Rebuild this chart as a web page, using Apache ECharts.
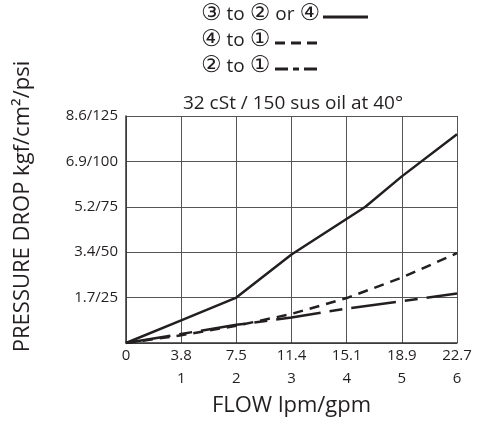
<!DOCTYPE html>
<html><head><meta charset="utf-8">
<script src="https://cdn.jsdelivr.net/npm/echarts@6/dist/echarts.min.js"></script>
<style>html,body{margin:0;padding:0;background:#fff}#c{width:477px;height:423px}</style>
</head><body><div id="c"></div>
<script>
const seriesNames = ['③ to ② or ④', '④ to ①', '② to ①'];
const xTickLabels = ['0', '3.8\n1', '7.5\n2', '11.4\n3', '15.1\n4', '18.9\n5', '22.7\n6'];
const yTickLabels = ['', '1.7/25', '3.4/50', '5.2/75', '6.9/100', '8.6/125'];
// x in gpm, y in units of 25 psi
const s1 = [[0,0],[1,0.5],[2,1],[3,1.95],[4.34,3],[5,3.67],[6,4.6]];
const s2 = [[0,0],[1,0.17],[2,0.38],[3,0.64],[4,0.99],[5,1.44],[6,1.98]];
const s3 = [[0,0],[1,0.2],[2,0.4],[3,0.56],[4,0.76],[5,0.92],[6,1.09]];

const font = '"Open Sans", "Noto Sans CJK JP", sans-serif';
const col = '#231f20';
const legendDash = ['solid', [10, 6], [13, 5, 6, 5]];
const legendRows = [
  {y: 17, x1: 323, x2: 368},
  {y: 43, x1: 275, x2: 320},
  {y: 69, x1: 275, x2: 320}
];
function richify(s) {
  return s.replace(/([①-⑳])/g, '{c|$1}').replace(/ ([a-z]+) /g, '{t| $1 }').replace(/^([a-z]+)/, '{t|$1}');
}
const legendGraphics = [];
seriesNames.forEach((n, i) => {
  const r = legendRows[i];
  legendGraphics.push({type: 'text', left: 201, top: r.y - 14,
    style: {text: richify(n), font: '19px ' + font, fill: col,
      rich: {
        c: {font: '23px "DejaVu Sans"', fill: col, verticalAlign: 'middle'},
        t: {font: '19px ' + font, fill: col, verticalAlign: 'middle'}
      }}});
  legendGraphics.push({type: 'line', shape: {x1: r.x1, y1: r.y, x2: r.x2, y2: r.y},
    style: {stroke: col, lineWidth: 3, lineDash: legendDash[i] === 'solid' ? null : legendDash[i]}});
});

const chart = echarts.init(document.getElementById('c'));
chart.setOption({
  animation: false,
  textStyle: {fontFamily: font},
  title: {
    text: '32 cSt / 150 sus oil at 40°',
    left: 288, top: 89, textAlign: 'center',
    textStyle: {fontSize: 19, fontWeight: 'normal', color: col, fontFamily: font}
  },
  graphic: legendGraphics,
  grid: {left: 126, right: 20, top: 116, bottom: 80},
  xAxis: {
    type: 'value', min: 0, max: 6, interval: 1,
    name: 'FLOW lpm/gpm', nameLocation: 'middle', nameGap: 52,
    nameTextStyle: {fontSize: 22, color: col},
    axisLine: {lineStyle: {color: '#333', width: 1.5}},
    axisTick: {show: false},
    axisLabel: {formatter: (v) => xTickLabels[Math.round(v)], fontSize: 15, color: col, lineHeight: 23, margin: 1},
    splitLine: {show: true, lineStyle: {color: '#555', width: 1}}
  },
  yAxis: {
    type: 'value', min: 0, max: 5, interval: 1,
    name: 'PRESSURE DROP kgf/cm²/psi', nameLocation: 'middle', nameGap: 92,
    nameTextStyle: {fontSize: 22, color: col, padding: [0, 0, 0, 46]},
    axisLine: {show: true, lineStyle: {color: '#333', width: 1.5}},
    axisTick: {show: false},
    axisLabel: {formatter: (v) => yTickLabels[Math.round(v)], fontSize: 15, color: col, margin: 8},
    splitLine: {show: true, lineStyle: {color: '#555', width: 1}}
  },
  series: [
    {name: seriesNames[0], type: 'line', data: s1, symbol: 'none', lineStyle: {color: col, width: 2.5, type: 'solid'}},
    {name: seriesNames[1], type: 'line', data: s2, symbol: 'none', lineStyle: {color: col, width: 2.5, type: [10, 7]}},
    {name: seriesNames[2], type: 'line', data: s3, symbol: 'none', lineStyle: {color: col, width: 2.5, type: [45, 9, 13, 9]}}
  ]
});
</script></body></html>
